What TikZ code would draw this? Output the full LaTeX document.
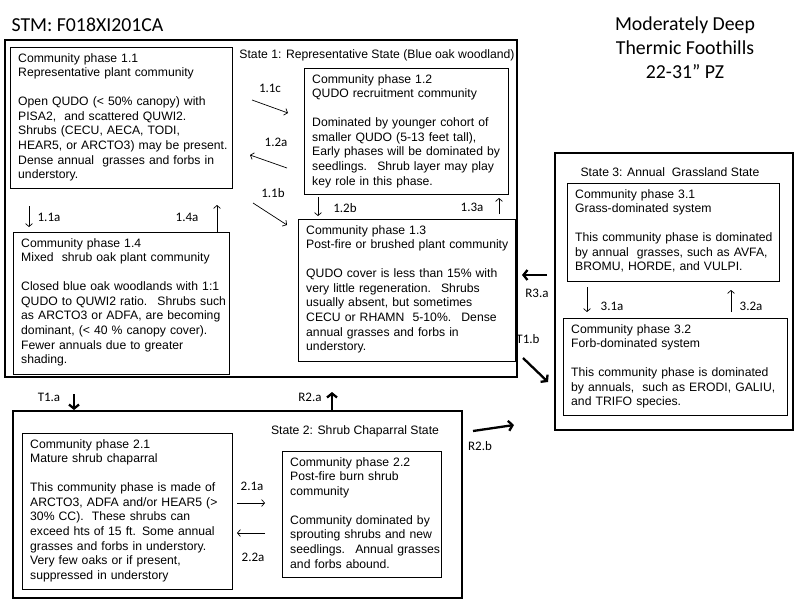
\documentclass[tikz,border=0pt]{standalone}
\usepackage{fontspec}
\setmainfont{Liberation Sans}
\newfontfamily\calibfont{Carlito}
\usetikzlibrary{arrows.meta}
\tikzset{%
  statebox/.style   = {draw, line width=2.6pt, anchor=north west,%
                       inner sep=0pt, outer sep=0pt},%
  phasebox/.style   = {draw, line width=0.8pt, anchor=north west,%
                       inner sep=0pt, outer sep=0pt},%
  phasetext/.style  = {anchor=north west, align=left, text width=215pt,%
                       inner xsep=8pt, inner ysep=6pt},%
  arlabel/.style    = {font=\calibfont\fontsize{13}{15}\selectfont},%
  titletext/.style  = {font=\calibfont\fontsize{19.8}{24}\selectfont},%
  phasearrow/.style = {line width=0.7pt, -{Straight Barb[length=3pt,width=7pt]}},%
  statearrow/.style = {line width=2.3pt, -{Straight Barb[length=4pt,width=10pt]}}%
}

\begin{document}
\begin{tikzpicture}[x=1pt,y=-1pt,every node/.style = {font=\fontsize{12.2}{14.7}\selectfont}]
		\useasboundingbox (0,0) rectangle (800,600);
		% titles
		\node[titletext,anchor=west] (stm) at (8,25) {STM: F018XI201CA};
		\node[titletext,align=center] (site) at (685,48) {Moderately Deep\\Thermic Foothills\\22-31” PZ};
		% state boxes
		\node[statebox,minimum width=512pt,minimum height=337pt] (s1) at (5,40) {};
		\node[statebox,minimum width=449pt,minimum height=187pt] (s2) at (13,411) {};
		\node[statebox,minimum width=238pt,minimum height=277pt] (s3) at (555,153) {};
		\node (s1l) at (377,55) {State 1: Representative State (Blue oak woodland)};
		\node (s2l) at (355,431) {State 2: Shrub Chaparral State};
		\node (s3l) at (670,172) {State 3: Annual~ Grassland State};
		% state 1
		\node[phasebox,minimum width=222pt,minimum height=141pt] (p11) at (10,47) {};
		\node[phasetext] (p11t) at (p11.north west) {Community phase 1.1\\
			Representative plant community\\[14pt]
			Open QUDO (< 50\% canopy) with\\
			PISA2,~ and scattered QUWI2.\\
			Shrubs (CECU, AECA, TODI,\\
			HEAR5, or ARCTO3) may be present.\\
			Dense annual~ grasses and forbs in\\
			understory.};
		\node[phasebox,minimum width=204pt,minimum height=126pt] (p12) at (304,68) {};
		\node[phasetext] (p12t) at (p12.north west) {Community phase 1.2\\
			QUDO recruitment community\\[14pt]
			Dominated by younger cohort of\\
			smaller QUDO (5-13 feet tall),\\
			Early phases will be dominated by\\
			seedlings.~ Shrub layer may play\\
			key role in this phase.};
		\node[phasebox,minimum width=217pt,minimum height=142pt] (p13) at (298,219) {};
		\node[phasetext] (p13t) at (p13.north west) {Community phase 1.3\\
			Post-fire or brushed plant community\\[14pt]
			QUDO cover is less than 15\% with\\
			very little regeneration.~ Shrubs\\
			usually absent, but sometimes\\
			CECU or RHAMN~ 5-10\%.~ Dense\\
			annual grasses and forbs in\\
			understory.};
		\node[phasebox,minimum width=216pt,minimum height=142pt] (p14) at (13,232) {};
		\node[phasetext] (p14t) at (p14.north west) {Community phase 1.4\\
			Mixed~ shrub oak plant community\\[14pt]
			Closed blue oak woodlands with 1:1\\
			QUDO to QUWI2 ratio.~ Shrubs such\\
			as ARCTO3 or ADFA, are becoming\\
			dominant, (< 40 \% canopy cover).\\
			Fewer annuals due to greater\\
			shading.};
		% state 2
		\node[phasebox,minimum width=210pt,minimum height=156pt] (p21) at (22,433) {};
		\node[phasetext] (p21t) at (p21.north west) {Community phase 2.1\\
			Mature shrub chaparral\\[14pt]
			This community phase is made of\\
			ARCTO3, ADFA and/or HEAR5 (>\\
			30\% CC).~ These shrubs can\\
			exceed hts of 15 ft. Some annual\\
			grasses and forbs in understory.\\
			Very few oaks or if present,\\
			suppressed in understory};
		\node[phasebox,minimum width=159pt,minimum height=126pt] (p22) at (282,451) {};
		\node[phasetext] (p22t) at (p22.north west) {Community phase 2.2\\
			Post-fire burn shrub\\
			community\\[14pt]
			Community dominated by\\
			sprouting shrubs and new\\
			seedlings.~ Annual grasses\\
			and forbs abound.};
		% state 3
		\node[phasebox,minimum width=212pt,minimum height=98pt] (p31) at (567,183) {};
		\node[phasetext] (p31t) at (p31.north west) {Community phase 3.1\\
			Grass-dominated system\\[14pt]
			This community phase is dominated\\
			by annual~ grasses, such as AVFA,\\
			BROMU, HORDE, and VULPI.};
		\node[phasebox,minimum width=224pt,minimum height=97pt] (p32) at (563,318) {};
		\node[phasetext] (p32t) at (p32.north west) {Community phase 3.2\\
			Forb-dominated system\\[14pt]
			This community phase is dominated\\
			by annuals,~ such as ERODI, GALIU,\\
			and TRIFO species.};
		% community pathways
		\draw[phasearrow] ([shift={(20,53)}]p11.north east) -- ([shift={(-16,45)}]p12.north west);
		\draw[phasearrow] ([shift={(-17,-26)}]p12.south west) -- ([shift={(18,-33)}]p11.south east);
		\draw[phasearrow] ([shift={(21,15)}]p11.south east) -- ([shift={(-11,6)}]p13.north west);
		\draw[phasearrow] ([shift={(14,3)}]p12.south west) -- ([shift={(20,-3)}]p13.north west);
		\draw[phasearrow] ([shift={(-16,-5)}]p13.north east) -- ([shift={(-9,4)}]p12.south east);
		\draw[phasearrow] ([shift={(19,18)}]p11.south west) -- ([shift={(16,-5)}]p14.north west);
		\draw[phasearrow] ([shift={(-12,0)}]p14.north east) -- ([shift={(-15,17)}]p11.south east);
		\draw[phasearrow] ([shift={(5,70)}]p21.north east) -- ([shift={(-17,52)}]p22.north west);
		\draw[phasearrow] ([shift={(-17,82)}]p22.north west) -- ([shift={(5,100)}]p21.north east);
		\draw[phasearrow] ([shift={(20,6)}]p31.south west) -- ([shift={(24,-6)}]p32.north west);
		\draw[phasearrow] ([shift={(168,-6)}]p32.north west) -- ([shift={(164,9)}]p31.south west);
		\node[arlabel] (l11c) at (270,88) {1.1c};
		\node[arlabel] (l12a) at (276,142) {1.2a};
		\node[arlabel] (l11b) at (273,193) {1.1b};
		\node[arlabel] (l12b) at (345,208) {1.2b};
		\node[arlabel] (l13a) at (472,207) {1.3a};
		\node[arlabel] (l11a) at (49,217) {1.1a};
		\node[arlabel] (l14a) at (187,217) {1.4a};
		\node[arlabel] (l21a) at (252,486) {2.1a};
		\node[arlabel] (l22a) at (253,557) {2.2a};
		\node[arlabel] (l31a) at (612,306) {3.1a};
		\node[arlabel] (l32a) at (751,306) {3.2a};
		% transitions
		\draw[statearrow] ([shift={(69,17)}]s1.south west) -- ([shift={(61,-1)}]s2.north west);
		\draw[statearrow] ([shift={(319,-1)}]s2.north west) -- ([shift={(327,15)}]s1.south west);
		\draw[statearrow] ([shift={(11,20)}]s2.north east) -- ([shift={(-41,-5)}]s3.south west);
		\draw[statearrow] ([shift={(-8,122)}]s3.north west) -- ([shift={(5,235)}]s1.north east);
		\draw[statearrow] ([shift={(6,-19)}]s1.south east) -- ([shift={(-7,-48)}]s3.south west);
		\node[arlabel] (lT1a) at (49,397) {T1.a};
		\node[arlabel] (lR2a) at (310,397) {R2.a};
		\node[arlabel] (lR2b) at (480,446) {R2.b};
		\node[arlabel] (lR3a) at (537,293) {R3.a};
		\node[arlabel] (lT1b) at (528,339) {T1.b};
	\end{tikzpicture}
\end{document}
